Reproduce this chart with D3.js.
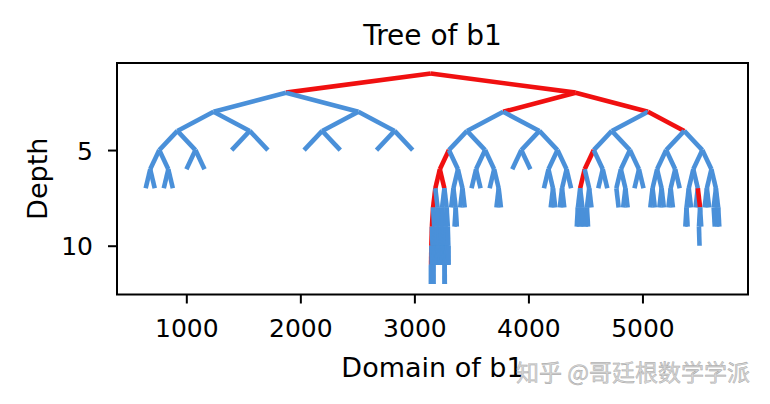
<!DOCTYPE html>
<html>
<head>
<meta charset="utf-8">
<script src="https://cdn.jsdelivr.net/npm/d3@7"></script>
<style>
  body { margin: 0; background: #fff; }
  text { font-family: "DejaVu Sans", sans-serif; }
</style>
</head>
<body>
<div id="canvas"></div>
<script>
"use strict"

// the part of b1 that the tree keeps cutting in half
let domainLo = 604;
let domainHi = 5684;

// end of every branch, written as a 0 = left / 1 = right path from the root
let leafPaths = [
    // left half
    "000000", "000001", "000010", "000011", "00010", "00011",
    "0010", "0011", "0100", "0101", "0110", "0111",
    // the deep branch near 3200
    "1000000000", "1000000001", "1000000010", "1000000011",
    "1000000100", "1000000101", "1000000110", "1000000111",
    "1000001000", "1000001001", "1000001010", "1000001011",
    "1000001100", "1000001101", "1000001110", "1000001111",
    "1000010000", "1000010001", "1000010010", "1000010011",
    "1000010100", "1000010101", "1000010110", "1000010111",
    "1000011000", "1000011001", "1000011010", "1000011011",
    "1000011100", "1000011101", "1000011110", "1000011111",
    "10000000000", "10000000001", "10000001000", "10000001001",
    "10000110000", "10000110001",
    "1000100", "10001010", "10001011", "1000110", "1000111",
    "100100", "100101", "100110", "1001110", "1001111",
    "10100", "10101",
    "101100", "1011010", "1011011", "1011100", "1011101", "101111",
    // right quarter
    "11000000", "11000001", "11000010", "11000011",
    "11000100", "11000101", "1100011", "110010", "110011",
    "1101001", "1101010", "1101011", "110110", "110111",
    "1110000", "1110001", "1110010", "1110011", "1110100", "1110101", "111011",
    "11110000", "11110001", "1111001", "1111010",
    "111101101", "11110111",
    "1111100", "1111101", "11111101", "11111110", "11111111"
];

// nodes whose edge from the parent is red
let redPaths = [
    "0", "1", "10", "11", "111",
    "10000", "100000", "100001", "1000000", "10000000", "100000000", "1000000000",
    "11000", "110000",
    "1111011"
];

let xTicks = [1000, 2000, 3000, 4000, 5000];
let yTicks = [5, 10];

let blue = "#4a90d9";
let red = "#f01010";

let width = 770, height = 404;
let margin = {top: 63, right: 22, bottom: 109.5, left: 117};

let drawing = d3.select("#canvas")
    .append("svg")
    .attr("width", width)
    .attr("height", height);

// build the tree from the paths
let nodeMap = new Map();
nodeMap.set("", {path: "", children: []});
leafPaths.forEach(p => {
    for (let i = 1; i <= p.length; i++) {
        let sub = p.slice(0, i);
        if (!nodeMap.has(sub)) {
            let n = {path: sub, children: []};
            nodeMap.set(sub, n);
            nodeMap.get(p.slice(0, i - 1)).children.push(n);
        }
    }
});
nodeMap.forEach(n => n.children.sort((a, b) => a.path < b.path ? -1 : 1));

let root = d3.hierarchy(nodeMap.get(""));
root.each(n => {
    let d = n.depth + 1;
    let k = n.data.path === "" ? 0 : parseInt(n.data.path, 2);
    n.level = d;
    n.value_x = domainLo + (2 * k + 1) * (domainHi - domainLo) / Math.pow(2, d);
});

let allNodes = root.descendants();
let xExt = d3.extent(allNodes, n => n.value_x);
let yExt = d3.extent(allNodes, n => n.level);
let xPad = (xExt[1] - xExt[0]) * 0.05;
let yPad = (yExt[1] - yExt[0]) * 0.05;

let x = d3.scaleLinear()
    .domain([xExt[0] - xPad, xExt[1] + xPad])
    .range([margin.left, width - margin.right]);
let y = d3.scaleLinear()
    .domain([yExt[0] - yPad, yExt[1] + yPad])
    .range([margin.top, height - margin.bottom]);

// edges in depth first order, so later branches sit on top
let edges = [];
root.eachBefore(n => { if (n.parent) edges.push(n); });

drawing.append("g")
    .selectAll("line")
    .data(edges)
    .join("line")
    .attr("x1", n => x(n.parent.value_x))
    .attr("y1", n => y(n.parent.level))
    .attr("x2", n => x(n.value_x))
    .attr("y2", n => y(n.level))
    .attr("stroke", n => redPaths.includes(n.data.path) ? red : blue)
    .attr("stroke-width", 4.6)
    .attr("stroke-linecap", "butt");

// axes
let xAxis = drawing.append("g")
    .attr("transform", `translate(0,${height - margin.bottom})`)
    .call(d3.axisBottom(x).tickValues(xTicks).tickSize(9).tickFormat(d3.format("d")));
xAxis.select(".domain").remove();
xAxis.selectAll(".tick line").attr("stroke", "#000").attr("stroke-width", 2);
xAxis.selectAll(".tick text")
    .attr("y", 42)
    .attr("dy", null)
    .attr("fill", "#000")
    .style("font-size", "25px");

let yAxis = drawing.append("g")
    .attr("transform", `translate(${margin.left},0)`)
    .call(d3.axisLeft(y).tickValues(yTicks).tickSize(9));
yAxis.select(".domain").remove();
yAxis.selectAll(".tick line").attr("stroke", "#000").attr("stroke-width", 2);
yAxis.selectAll(".tick text")
    .attr("x", -24)
    .attr("dy", "0.36em")
    .attr("fill", "#000")
    .style("font-size", "25px");

// frame
drawing.append("rect")
    .attr("x", margin.left)
    .attr("y", margin.top)
    .attr("width", width - margin.left - margin.right)
    .attr("height", height - margin.top - margin.bottom)
    .attr("fill", "none")
    .attr("stroke", "#000")
    .attr("stroke-width", 2);

// labels
let midX = (margin.left + width - margin.right) / 2;
drawing.append("text")
    .attr("x", midX)
    .attr("y", 44.5)
    .attr("text-anchor", "middle")
    .style("font-size", "28px")
    .text("Tree of b1");

drawing.append("text")
    .attr("x", midX)
    .attr("y", 377)
    .attr("text-anchor", "middle")
    .style("font-size", "27px")
    .text("Domain of b1");

drawing.append("text")
    .attr("transform", `translate(47,${(margin.top + height - margin.bottom) / 2}) rotate(-90)`)
    .attr("text-anchor", "middle")
    .style("font-size", "27px")
    .text("Depth");

// watermark
drawing.append("text")
    .attr("x", 750)
    .attr("y", 381)
    .attr("text-anchor", "end")
    .style("font-family", "'Noto Sans CJK SC', sans-serif")
    .style("font-size", "23px")
    .attr("fill", "#d6d6d6")
    .attr("stroke", "#a0a0a0")
    .attr("stroke-width", 0.4)
    .text("知乎 @哥廷根数学学派");
</script>
</body>
</html>
